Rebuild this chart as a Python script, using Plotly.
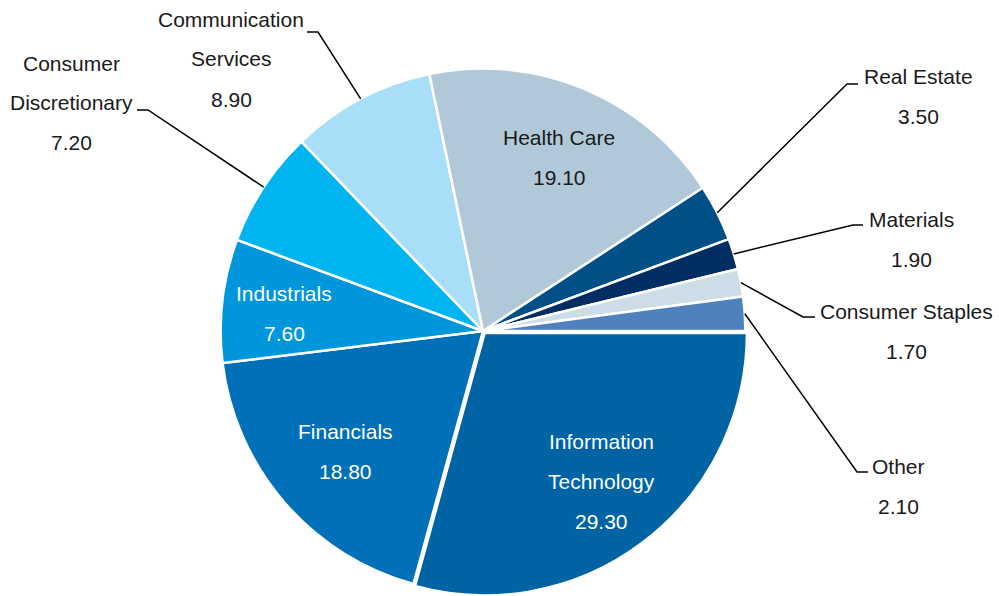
import math
import plotly.graph_objects as go

# Sector weights (%), listed clockwise from 3 o'clock
sectors = ["Information Technology", "Financials", "Industrials",
           "Consumer Discretionary", "Communication Services", "Health Care",
           "Real Estate", "Materials", "Consumer Staples", "Other"]
weights = [29.30, 18.80, 7.60, 7.20, 8.90, 19.10, 3.50, 1.90, 1.70, 2.10]
colors = ["#0063A3", "#0070B8", "#0096DC", "#00B5EF", "#A8DEF8",
          "#B0C8D8", "#004F87", "#002D62", "#CCDDE8", "#4F81BD"]
pulls = [0.01, 0, 0, 0, 0, 0, 0, 0, 0, 0]

# Label text lines for each sector
label_lines = {
    "Information Technology": ["Information", "Technology"],
    "Financials": ["Financials"],
    "Industrials": ["Industrials"],
    "Consumer Discretionary": ["Consumer", "Discretionary"],
    "Communication Services": ["Communication", "Services"],
    "Health Care": ["Health Care"],
    "Real Estate": ["Real Estate"],
    "Materials": ["Materials"],
    "Consumer Staples": ["Consumer Staples"],
    "Other": ["Other"],
}

W, H = 999, 596
CX, CY = 483, 331          # pie centre in pixels (from top-left)
HALF = H - CY              # available half-height below centre
R = HALF / (1 + max(pulls))  # plotly shrinks the radius to fit pulled slices

FONT = "Arial, Liberation Sans, sans-serif"
LINE_GAP = 40

# Label placement: (x, y of first line, anchor, colour, leader elbow, leader end)
placement = {
    "Information Technology": (601, 441, "center", "white", None, None),
    "Financials": (345, 431, "center", "white", None, None),
    "Industrials": (284, 293, "center", "white", None, None),
    "Health Care": (559, 137, "center", "#1a1a1a", None, None),
    "Communication Services": (231, 19, "center", "#1a1a1a", (318, 32), (307, 32)),
    "Consumer Discretionary": (71, 63, "center", "#1a1a1a", (148, 110), (137, 110)),
    "Real Estate": (918, 77, "center", "#1a1a1a", (847, 84), (858, 84)),
    "Materials": (911, 219, "center", "#1a1a1a", (853, 225), (863, 225)),
    "Consumer Staples": (906, 311, "center", "#1a1a1a", (803, 317), (815, 317)),
    "Other": (898, 466, "center", "#1a1a1a", (857, 472), (868, 472)),
}


def px(x):
    return x / W


def py(y):
    return 1 - y / H


fig = go.Figure(go.Pie(
    labels=sectors,
    values=weights,
    sort=False,
    direction="clockwise",
    rotation=90,
    pull=pulls,
    marker=dict(colors=colors, line=dict(color="white", width=2.5)),
    textinfo="none",
    hoverinfo="skip",
    showlegend=False,
    domain=dict(x=[px(CX - HALF - 5), px(CX + HALF + 5)], y=[0, 2 * HALF / H]),
))

annotations = []
shapes = []
total = sum(weights)
cum = 0.0
for name, val in zip(sectors, weights):
    mid_frac = (cum + val / 2) / total
    cum += val
    x0, y0, anchor, col, elbow, end = placement[name]
    lines = label_lines[name] + [f"{val:.2f}"]
    for i, txt in enumerate(lines):
        annotations.append(dict(
            x=px(x0), y=py(y0 + i * LINE_GAP), xref="paper", yref="paper",
            text=txt, showarrow=False, xanchor=anchor, yanchor="middle",
            font=dict(family=FONT, size=21, color=col),
        ))
    if elbow is not None:
        # leader line from the slice's outer edge at its mid-angle
        ang = math.radians(mid_frac * 360)
        sx = CX + R * math.cos(ang)
        sy = CY + R * math.sin(ang)
        path = (f"M {px(sx)} {py(sy)} L {px(elbow[0])} {py(elbow[1])} "
                f"L {px(end[0])} {py(end[1])}")
        shapes.append(dict(type="path", xref="paper", yref="paper", path=path,
                           line=dict(color="black", width=1.5)))

fig.update_layout(
    width=W, height=H,
    margin=dict(l=0, r=0, t=0, b=0),
    paper_bgcolor="white",
    plot_bgcolor="white",
    annotations=annotations,
    shapes=shapes,
)

fig.write_html("out.html")
